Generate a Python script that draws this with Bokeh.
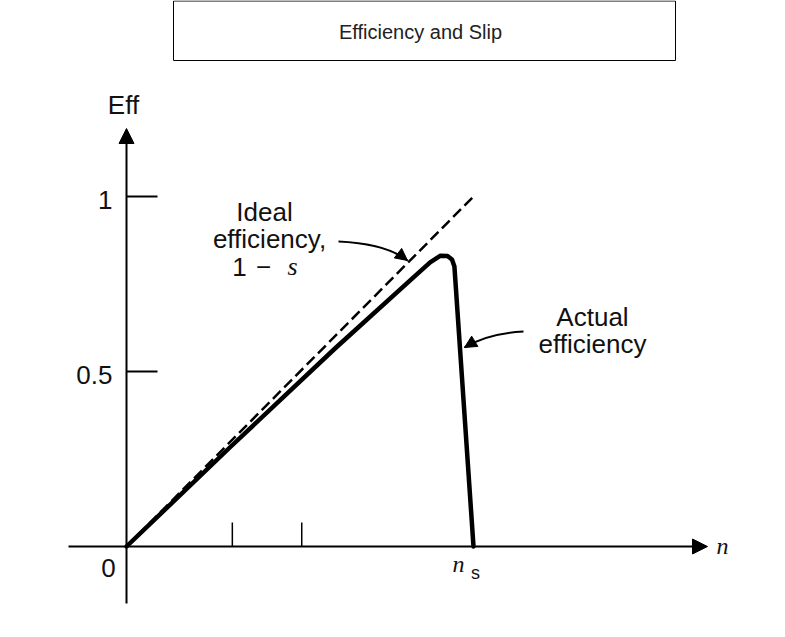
from bokeh.plotting import figure
from bokeh.models import Range1d, Arrow, NormalHead
from bokeh.core.properties import value
from bokeh.embed import file_html
from bokeh.resources import INLINE

# ---------------- data ----------------
n_ideal = [0.0, 1.0]
eff_ideal = [0.0, 1.0]

n_actual = [0.0, 0.3, 0.6, 0.827, 0.875, 0.905, 0.925, 0.938, 0.945, 1.0]
eff_actual = [0.0, 0.285, 0.565, 0.769, 0.812, 0.831, 0.83, 0.82, 0.80, 0.0]

y_tick_values = [0.5, 1.0]
y_tick_labels = ["0.5", "1"]
x_tick_values = [0.305, 0.505]
n_sync = 1.0

title_text = "Efficiency and Slip"

# ---------------- layout helpers (screen px -> data) ----------------
X0, Y0, SX, SY = 126.0, 546.0, 347.0, 350.0
OFF = 0  # canvas position on the page


def fx(X):
    return (X - X0) / SX


def fy(Y):
    return (Y0 - Y) / SY


W, H = 769, 621
p = figure(width=W, height=H, output_backend="svg", toolbar_location=None,
           x_range=Range1d(fx(OFF), fx(OFF + W)), y_range=Range1d(fy(OFF + H), fy(OFF)),
           x_axis_type=None, y_axis_type=None, min_border=0)
p.grid.visible = False
p.outline_line_color = None
p.background_fill_color = "white"
p.border_fill_color = "white"

SANS = value("Liberation Sans")
SERIF = value("Liberation Serif")
INK = "#111111"

# title box
p.quad(left=[fx(173)], right=[fx(675)], top=[fy(0.5)], bottom=[fy(60)],
       fill_color="white", line_color="black", line_width=1)
p.text(x=[fx(420)], y=[fy(31)], text=[title_text], text_font=SANS,
       text_font_size="20px", text_align="center", text_baseline="middle",
       text_color="#222222")

# axes with arrow heads
p.add_layout(Arrow(end=NormalHead(size=15, fill_color="black", line_color="black"),
                   x_start=0, y_start=fy(603), x_end=0, y_end=fy(128),
                   line_width=2, line_color="black"))
p.add_layout(Arrow(end=NormalHead(size=15, fill_color="black", line_color="black"),
                   x_start=fx(68), y_start=0, x_end=fx(707), y_end=0,
                   line_width=2, line_color="black"))

# y ticks
p.segment(x0=[0] * len(y_tick_values), y0=y_tick_values,
          x1=[fx(157)] * len(y_tick_values), y1=y_tick_values,
          line_color="black", line_width=2)
p.text(x=[fx(112)] * len(y_tick_values), y=[v - 3 / SY for v in y_tick_values],
       text=y_tick_labels, text_font=SANS, text_font_size="26px",
       text_align="right", text_baseline="middle", text_color=INK)

# x ticks (unlabelled)
p.segment(x0=x_tick_values, y0=[0] * len(x_tick_values),
          x1=x_tick_values, y1=[fy(522)] * len(x_tick_values),
          line_color="black", line_width=1.5)

# ideal (dashed) and actual efficiency
p.line(n_ideal, eff_ideal, line_color="black", line_width=2.5, line_dash="11 5")
p.line(n_actual, eff_actual, line_color="black", line_width=4.5,
       line_join="round", line_cap="round")

# axis labels
p.text(x=[fx(123)], y=[fy(104)], text=["Eff"], text_font=SANS,
       text_font_size="26px", text_align="center", text_baseline="alphabetic",
       text_color=INK)
p.text(x=[fx(108)], y=[fy(567)], text=["0"], text_font=SANS,
       text_font_size="26px", text_align="center", text_baseline="alphabetic",
       text_color=INK)
p.text(x=[fx(722)], y=[fy(545)], text=["n"], text_font=SERIF,
       text_font_style="italic", text_font_size="24px", text_align="center",
       text_baseline="alphabetic", text_color=INK)
p.text(x=[n_sync - 15 / SX], y=[fy(563)], text=["n"], text_font=SERIF,
       text_font_style="italic", text_font_size="24px", text_align="center",
       text_baseline="alphabetic", text_color=INK)
p.text(x=[n_sync + 2 / SX], y=[fy(572)], text=["s"], text_font=SANS,
       text_font_size="18px", text_align="center", text_baseline="alphabetic",
       text_color=INK)

# "Ideal efficiency, 1 - s" label
p.text(x=[fx(264), fx(269)], y=[fy(211), fy(238)], text=["Ideal", "efficiency,"],
       text_font=SANS, text_font_size="26px", text_align="center",
       text_baseline="alphabetic", text_color=INK)
p.text(x=[fx(239), fx(263)], y=[fy(266), fy(266)], text=["1", "\u2212"],
       text_font=SANS, text_font_size="26px", text_align="center",
       text_baseline="alphabetic", text_color=INK)
p.text(x=[fx(292)], y=[fy(266)], text=["s"], text_font=SERIF,
       text_font_style="italic", text_font_size="26px", text_align="center",
       text_baseline="alphabetic", text_color=INK)

# "Actual efficiency" label
p.text(x=[fx(592), fx(592)], y=[fy(316), fy(343)], text=["Actual", "efficiency"],
       text_font=SANS, text_font_size="26px", text_align="center",
       text_baseline="alphabetic", text_color=INK)

# curved pointer arrows
for (sx, sy), (cx, cy), (ex, ey) in [((338, 241), (385, 243), (407, 260)),
                                     ((523, 331), (487, 333), (464, 347))]:
    p.quadratic(x0=[fx(sx)], y0=[fy(sy)], x1=[fx(ex)], y1=[fy(ey)],
                cx=[fx(cx)], cy=[fy(cy)], line_color="black", line_width=2)
    bx, by = ex - 0.3 * (ex - cx), ey - 0.3 * (ey - cy)
    p.add_layout(Arrow(end=NormalHead(size=12, fill_color="black", line_color="black"),
                       x_start=fx(bx), y_start=fy(by), x_end=fx(ex), y_end=fy(ey),
                       line_width=2, line_color="black"))

open("out.html", "w").write(file_html(p, INLINE))
